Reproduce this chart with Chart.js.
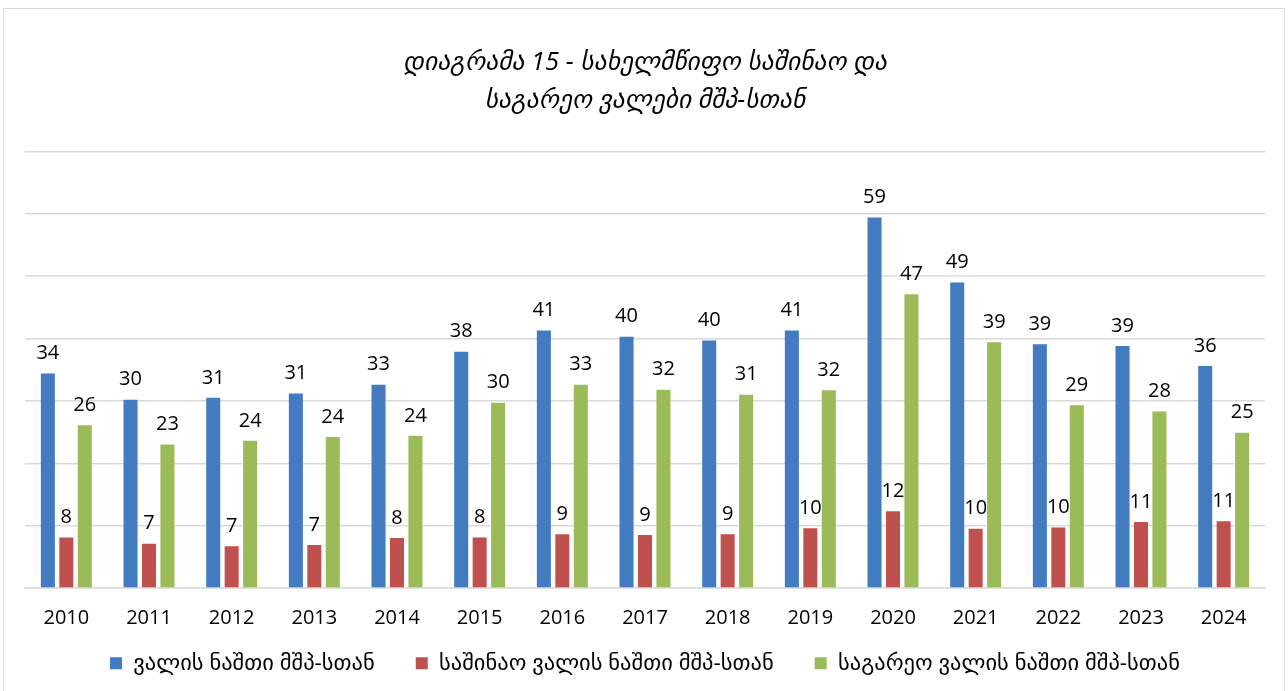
<!DOCTYPE html>
<html>
<head>
<meta charset="utf-8">
<script src="https://cdn.jsdelivr.net/npm/chart.js@4.4.1/dist/chart.umd.min.js"></script>
<style>
  html, body { margin: 0; padding: 0; background: #fff; }
  #wrap { position: relative; width: 1288px; height: 691px; }
  #frame { position: absolute; left: 3px; top: 8px; width: 1282px; height: 690px; border: 1px solid #d9d9d9; box-sizing: border-box; pointer-events: none; }
</style>
</head>
<body>
<div id="wrap">
  <canvas id="myChart" width="1288" height="691"></canvas>
  <div id="frame"></div>
</div>
<script>
const years = ['2010', '2011', '2012', '2013', '2014', '2015', '2016', '2017', '2018', '2019', '2020', '2021', '2022', '2023', '2024'];
const totalDebt = [34.4, 30.2, 30.5, 31.2, 32.6, 37.9, 41.3, 40.3, 39.7, 41.3, 59.4, 49.0, 39.1, 38.8, 35.6];
const domesticDebt = [8.1, 7.1, 6.7, 6.9, 8.0, 8.1, 8.6, 8.5, 8.6, 9.6, 12.3, 9.5, 9.7, 10.6, 10.7];
const externalDebt = [26.1, 23.0, 23.6, 24.2, 24.4, 29.7, 32.6, 31.8, 31.0, 31.7, 47.1, 39.4, 29.3, 28.3, 24.9];
const seriesNames = ['ვალის ნაშთი მშპ-სთან', 'საშინაო ვალის ნაშთი მშპ-სთან', 'საგარეო ვალის ნაშთი მშპ-სთან'];
const titleLines = ['დიაგრამა 15 - სახელმწიფო საშინაო და', 'საგარეო ვალები მშპ-სთან'];

const fontFam = '"Open Sans", "DejaVu Sans", sans-serif';

// value labels above the bars
const barLabels = {
  id: 'barLabels',
  afterDatasetsDraw(chart) {
    const ctx = chart.ctx;
    ctx.save();
    ctx.font = '20px ' + fontFam;
    ctx.fillStyle = '#000';
    ctx.textAlign = 'center';
    ctx.textBaseline = 'bottom';
    chart.data.datasets.forEach((ds, i) => {
      chart.getDatasetMeta(i).data.forEach((bar, j) => {
        ctx.fillText(Math.round(ds.data[j]), bar.x, bar.y - 10);
      });
    });
    ctx.restore();
  }
};

// legend padding is big for the gaps between items, pull the row up a bit
const legendShift = {
  id: 'legendShift',
  afterLayout(chart) {
    chart.legend.top -= 37;
    chart.legend.bottom -= 37;
  }
};

const ctx = document.getElementById('myChart').getContext('2d');
const myChart = new Chart(ctx, {
  type: 'bar',
  data: {
    labels: years,
    datasets: [
      { label: seriesNames[0], data: totalDebt, backgroundColor: '#427BBF' },
      { label: seriesNames[1], data: domesticDebt, backgroundColor: '#C0504D' },
      { label: seriesNames[2], data: externalDebt, backgroundColor: '#9BBB59' }
    ]
  },
  options: {
    responsive: false,
    animation: false,
    categoryPercentage: 0.67,
    barPercentage: 0.76,
    layout: { padding: { left: 25, right: 23, top: 44, bottom: -30.5 } },
    plugins: {
      title: {
        display: true,
        text: titleLines,
        color: '#000',
        font: { family: fontFam, size: 25.5, style: 'italic', weight: 'normal', lineHeight: 1.48 },
        padding: { top: 0, bottom: 32 }
      },
      legend: {
        position: 'bottom',
        labels: {
          color: '#000',
          font: { family: fontFam, size: 22.5 },
          boxWidth: 12,
          boxHeight: 12,
          padding: 41
        }
      },
      tooltip: { enabled: false }
    },
    scales: {
      x: {
        grid: { display: false, drawTicks: false },
        border: { color: '#d9d9d9', width: 1.5 },
        ticks: { color: '#000', font: { family: fontFam, size: 20 }, padding: 18 }
      },
      y: {
        min: 0,
        max: 70,
        ticks: { display: false, stepSize: 10 },
        grid: { color: '#d9d9d9', lineWidth: 1.5, drawTicks: false },
        border: { display: false }
      }
    }
  },
  plugins: [barLabels, legendShift]
});
</script>
</body>
</html>
